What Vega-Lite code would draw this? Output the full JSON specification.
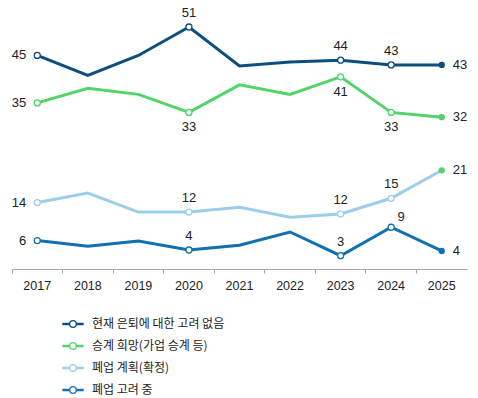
{
  "$schema": "https://vega.github.io/schema/vega-lite/v6.json",
  "width": 455,
  "height": 261,
  "autosize": {"type": "none"},
  "padding": {"left": 12, "top": 8, "right": 11, "bottom": 129},
  "background": "white",
  "config": {
    "view": {"stroke": null},
    "text": {"font": "Liberation Sans", "fontSize": 13, "color": "#222222"},
    "legend": {"symbolFillColor": "white"}
  },
  "data": {
    "values": [
      {"year": "2017", "series": "현재 은퇴에 대한 고려 없음", "value": 45},
      {"year": "2018", "series": "현재 은퇴에 대한 고려 없음", "value": 40.8},
      {"year": "2019", "series": "현재 은퇴에 대한 고려 없음", "value": 45},
      {"year": "2020", "series": "현재 은퇴에 대한 고려 없음", "value": 51},
      {"year": "2021", "series": "현재 은퇴에 대한 고려 없음", "value": 42.8},
      {"year": "2022", "series": "현재 은퇴에 대한 고려 없음", "value": 43.6},
      {"year": "2023", "series": "현재 은퇴에 대한 고려 없음", "value": 44},
      {"year": "2024", "series": "현재 은퇴에 대한 고려 없음", "value": 43},
      {"year": "2025", "series": "현재 은퇴에 대한 고려 없음", "value": 43},
      {"year": "2017", "series": "승계 희망(가업 승계 등)", "value": 35},
      {"year": "2018", "series": "승계 희망(가업 승계 등)", "value": 38.1},
      {"year": "2019", "series": "승계 희망(가업 승계 등)", "value": 36.8},
      {"year": "2020", "series": "승계 희망(가업 승계 등)", "value": 33},
      {"year": "2021", "series": "승계 희망(가업 승계 등)", "value": 38.8},
      {"year": "2022", "series": "승계 희망(가업 승계 등)", "value": 36.8},
      {"year": "2023", "series": "승계 희망(가업 승계 등)", "value": 40.5},
      {"year": "2024", "series": "승계 희망(가업 승계 등)", "value": 33},
      {"year": "2025", "series": "승계 희망(가업 승계 등)", "value": 32},
      {"year": "2017", "series": "폐업 계획(확정)", "value": 14},
      {"year": "2018", "series": "폐업 계획(확정)", "value": 16},
      {"year": "2019", "series": "폐업 계획(확정)", "value": 12},
      {"year": "2020", "series": "폐업 계획(확정)", "value": 12},
      {"year": "2021", "series": "폐업 계획(확정)", "value": 13},
      {"year": "2022", "series": "폐업 계획(확정)", "value": 10.9},
      {"year": "2023", "series": "폐업 계획(확정)", "value": 11.6},
      {"year": "2024", "series": "폐업 계획(확정)", "value": 14.9},
      {"year": "2025", "series": "폐업 계획(확정)", "value": 20.8},
      {"year": "2017", "series": "폐업 고려 중", "value": 6},
      {"year": "2018", "series": "폐업 고려 중", "value": 4.8},
      {"year": "2019", "series": "폐업 고려 중", "value": 5.9},
      {"year": "2020", "series": "폐업 고려 중", "value": 4},
      {"year": "2021", "series": "폐업 고려 중", "value": 5},
      {"year": "2022", "series": "폐업 고려 중", "value": 7.8},
      {"year": "2023", "series": "폐업 고려 중", "value": 2.8},
      {"year": "2024", "series": "폐업 고려 중", "value": 8.8},
      {"year": "2025", "series": "폐업 고려 중", "value": 3.8}
    ]
  },
  "encoding": {
    "x": {
      "field": "year",
      "type": "ordinal",
      "scale": {"type": "band", "paddingInner": 0, "paddingOuter": 0},
      "axis": null
    },
    "y": {
      "field": "value",
      "type": "quantitative",
      "scale": {"domain": [0, 55], "nice": false, "zero": true},
      "axis": null
    }
  },
  "resolve": {"axis": {"x": "independent"}},
  "layer": [
    {
      "mark": {"type": "line", "strokeWidth": 3},
      "encoding": {
        "x": {
          "field": "year",
          "type": "ordinal",
          "scale": {"type": "band", "paddingInner": 0, "paddingOuter": 0},
          "axis": {
            "orient": "bottom",
            "title": null,
            "labels": false,
            "bandPosition": 0,
            "domainColor": "#a6a6a6",
            "tickColor": "#a6a6a6",
            "tickSize": 4,
            "domainWidth": 1
          }
        },
        "color": {
          "field": "series",
          "type": "nominal",
          "sort": ["현재 은퇴에 대한 고려 없음", "승계 희망(가업 승계 등)", "폐업 계획(확정)", "폐업 고려 중"],
          "scale": {
            "domain": ["현재 은퇴에 대한 고려 없음", "승계 희망(가업 승계 등)", "폐업 계획(확정)", "폐업 고려 중"],
            "range": ["#0e4d7d", "#52d46a", "#9ccde9", "#1170b0"]
          },
          "legend": {
            "orient": "none",
            "legendX": 50,
            "legendY": 305,
            "direction": "vertical",
            "title": null,
            "symbolType": "M-1,-0.06H-0.36V0.06H-1Z M0.36,-0.06H1V0.06H0.36Z M0.33,0A0.33,0.33 0 1,1 -0.33,0A0.33,0.33 0 1,1 0.33,0",
            "symbolSize": 400,
            "symbolStrokeWidth": 1.3,
            "symbolFillColor": "white",
            "labelFont": "Noto Sans CJK KR",
            "labelFontSize": 12,
            "labelColor": "#222222",
            "labelOffset": 8,
            "rowPadding": 5,
            "encode": {"symbols": {"update": {"fill": {"value": "#ffffff"}, "fillOpacity": {"value": 1}}}}
          }
        }
      }
    },
    {
      "mark": {"type": "text", "dy": 14, "font": "Liberation Sans", "fontSize": 12.5, "color": "#222222"},
      "encoding": {
        "x": {
          "field": "year",
          "type": "ordinal",
          "scale": {"type": "band", "paddingInner": 0, "paddingOuter": 0},
          "axis": {
            "orient": "bottom",
            "title": null,
            "domain": false,
            "ticks": false,
            "labelFont": "Liberation Sans",
            "labelFontSize": 12.5,
            "labelColor": "#222222",
            "labelPadding": 10,
            "labelAngle": 0
          }
        },
        "text": {"value": ""}
      }
    },
    {
      "transform": [{"filter": "datum.year === '2017' || datum.year === '2020' || datum.year === '2023' || datum.year === '2024'"}],
      "mark": {"type": "circle", "size": 36, "fill": "white", "strokeWidth": 1.3, "opacity": 1},
      "encoding": {
        "stroke": {
          "condition": [
            {"test": "datum.series === '현재 은퇴에 대한 고려 없음'", "value": "#0e4d7d"},
            {"test": "datum.series === '승계 희망(가업 승계 등)'", "value": "#52d46a"},
            {"test": "datum.series === '폐업 계획(확정)'", "value": "#9ccde9"}
          ],
          "value": "#1170b0"
        }
      }
    },
    {
      "transform": [{"filter": "datum.year === '2025'"}],
      "mark": {"type": "circle", "size": 40, "opacity": 1},
      "encoding": {
        "fill": {
          "condition": [
            {"test": "datum.series === '현재 은퇴에 대한 고려 없음'", "value": "#0e4d7d"},
            {"test": "datum.series === '승계 희망(가업 승계 등)'", "value": "#52d46a"},
            {"test": "datum.series === '폐업 계획(확정)'", "value": "#52d46a"}
          ],
          "value": "#1170b0"
        }
      }
    },
    {
      "transform": [{"filter": "datum.year === '2017'"}],
      "mark": {"type": "text", "align": "right", "baseline": "middle", "dx": -11},
      "encoding": {"text": {"field": "value", "type": "quantitative", "format": ".0f"}}
    },
    {
      "transform": [{"filter": "datum.year === '2025'"}],
      "mark": {"type": "text", "align": "left", "baseline": "middle", "dx": 11},
      "encoding": {"text": {"field": "value", "type": "quantitative", "format": ".0f"}}
    },
    {
      "transform": [{"filter": "(datum.year === '2020' || datum.year === '2023' || datum.year === '2024') && datum.series !== '승계 희망(가업 승계 등)' && !(datum.year === '2024' && datum.series === '폐업 고려 중')"}],
      "mark": {"type": "text", "align": "center", "baseline": "middle", "dy": -14},
      "encoding": {"text": {"field": "value", "type": "quantitative", "format": ".0f"}}
    },
    {
      "transform": [{"filter": "(datum.year === '2020' || datum.year === '2023' || datum.year === '2024') && datum.series === '승계 희망(가업 승계 등)'"}],
      "mark": {"type": "text", "align": "center", "baseline": "middle", "dy": 15},
      "encoding": {"text": {"field": "value", "type": "quantitative", "format": ".0f"}}
    },
    {
      "transform": [{"filter": "datum.year === '2024' && datum.series === '폐업 고려 중'"}],
      "mark": {"type": "text", "align": "center", "baseline": "middle", "dx": 10, "dy": -10},
      "encoding": {"text": {"field": "value", "type": "quantitative", "format": ".0f"}}
    }
  ]
}
